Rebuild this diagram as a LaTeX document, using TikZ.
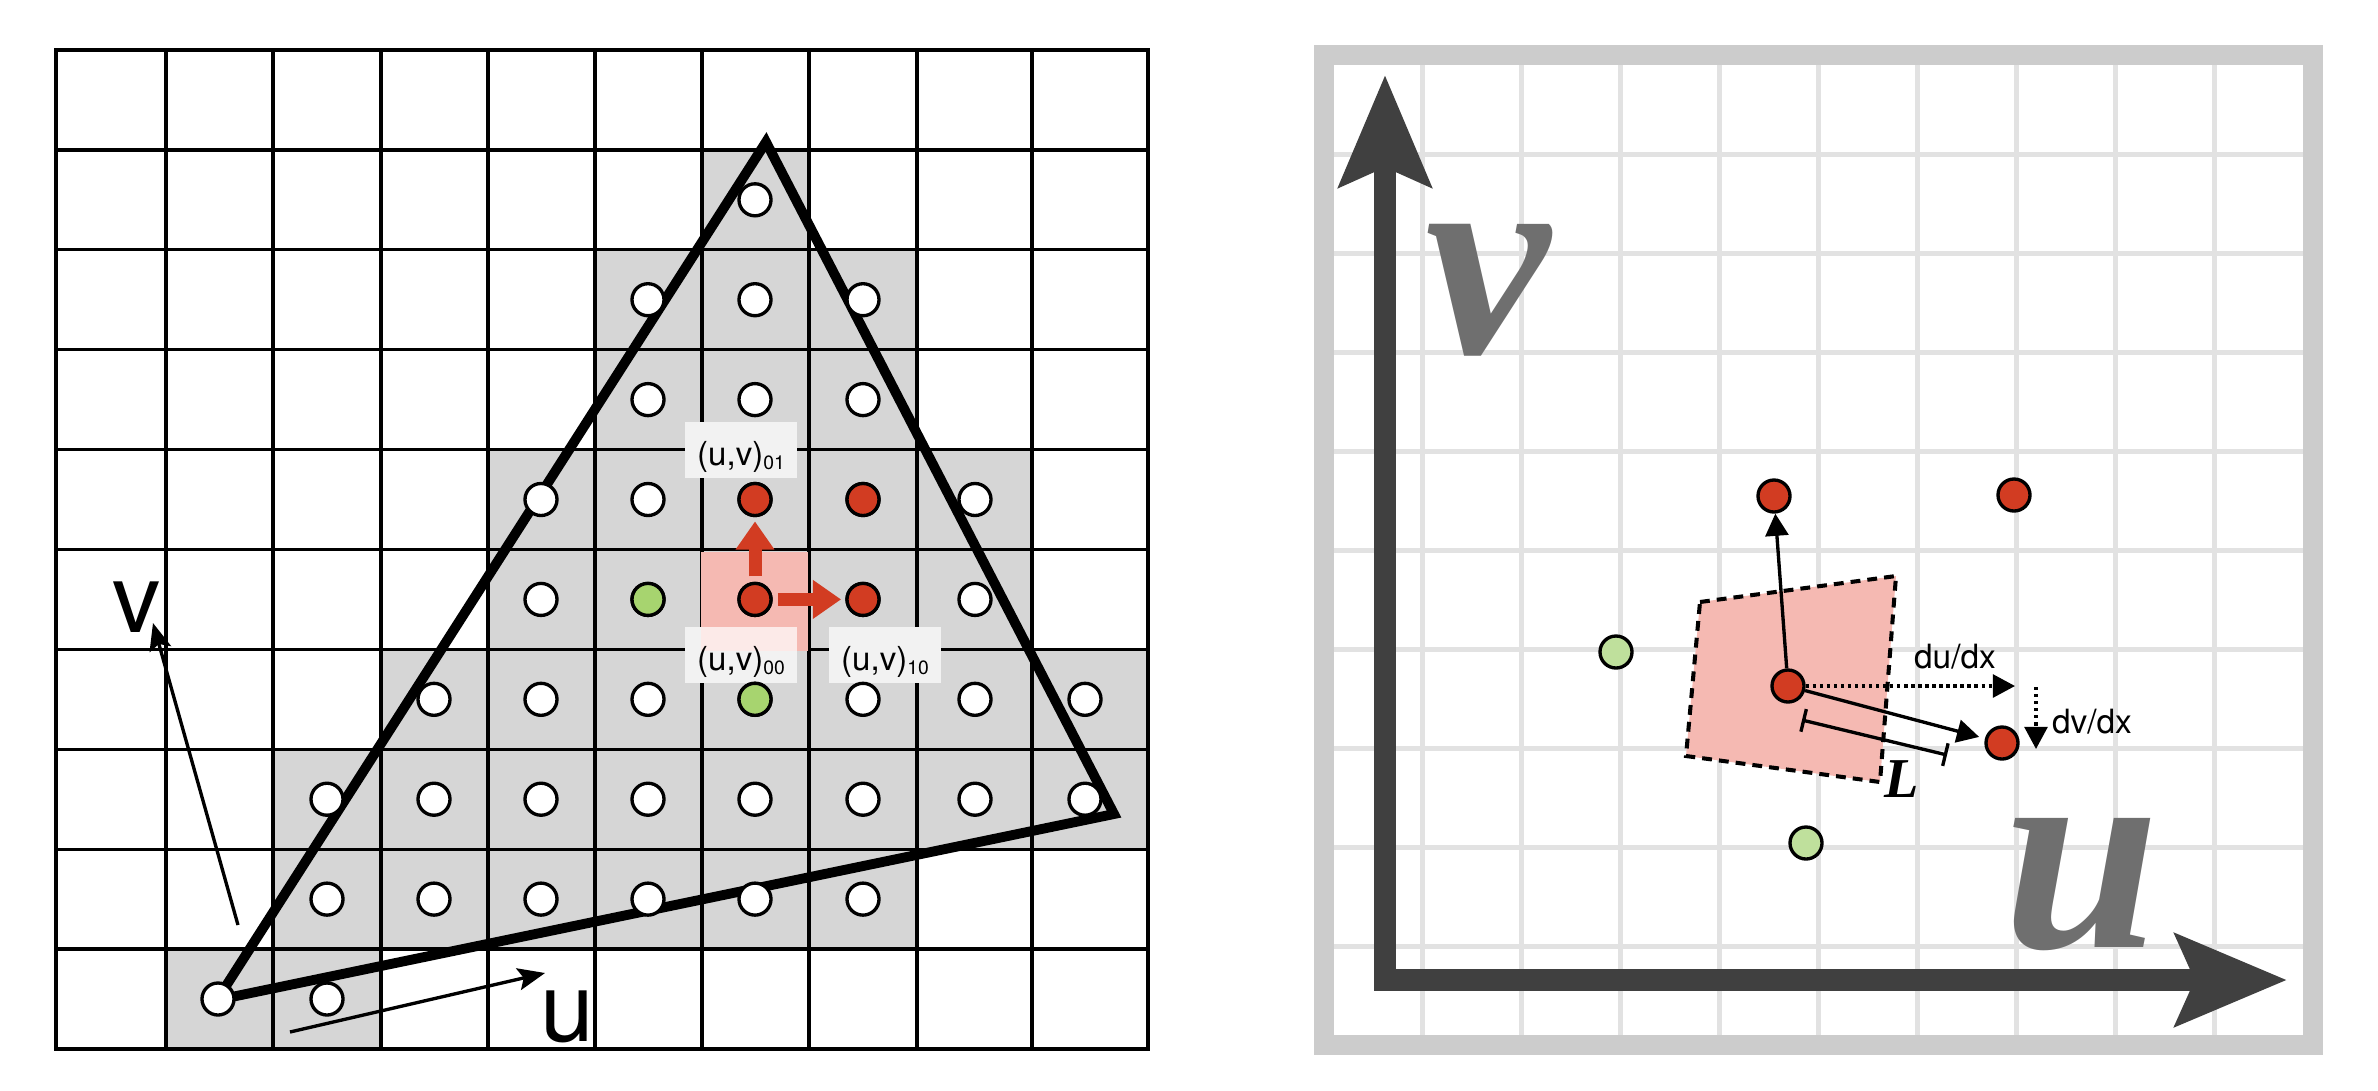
\documentclass[tikz,border=0pt]{standalone}
\usepackage{fontspec}
\setmainfont{TeX Gyre Heros}
\newfontfamily\timesfont{Liberation Serif}
\usetikzlibrary{arrows.meta}
\definecolor{cellgray}{HTML}{D6D6D6}
\definecolor{cellpink}{HTML}{F5B9B2}
\definecolor{ptred}{HTML}{D23C22}
\definecolor{ptgreen}{HTML}{A7D46F}
\definecolor{ptgreenlt}{HTML}{BFE09C}
\definecolor{axisgray}{HTML}{404040}
\definecolor{lettergray}{HTML}{6F6F6F}
\definecolor{framegray}{HTML}{CCCCCC}
\definecolor{finegray}{HTML}{E2E2E2}
\newcommand{\uvsub}[1]{\raisebox{-1pt}{\fontsize{5.5}{6}\selectfont #1}}
% rows of sample points: row/columns
\def\samplerows{0/{1,2},1/{2,...,7},2/{2,...,9},3/{3,...,9},4/{4,...,8},5/{4,...,8},6/{5,6,7},7/{5,6,7},8/{6}}
\def\colline{{56,166,273,381,488,595,702,809,917,1032,1148}}
\def\colmid{{111,218,327,434,541,648,755,863,975,1085}}
\begin{document}
\begin{tikzpicture}[x=0.01cm,y=-0.01cm,
  samp/.style={circle,draw,line width=.95pt,fill=white,inner sep=0pt,minimum size=.32cm},
  redpt/.style={samp,fill=ptred},
  greenpt/.style={samp,fill=ptgreen},
  greenlt/.style={samp,fill=ptgreenlt},
  cellline/.style={line width=.95pt,line cap=rect},
  underlay/.style={fill=cellgray,inner sep=0pt,minimum width=1.12cm,minimum height=.56cm},
  uvbox/.style={underlay,fill=white,fill opacity=.7,text opacity=1,font=\fontsize{9.4}{11}\selectfont,text height=11pt,text depth=2pt},
  redarrow/.style={ptred,line width=3.7pt,shorten <=1.5pt,shorten >=1.2pt,-{Triangle[length=8pt,width=10.5pt]}},
  thinarrow/.style={line width=.95pt,-{Stealth[length=7.7pt,width=6.3pt,inset=1.5pt]}},
  blackarrow/.style={line width=.95pt,-{Triangle[length=6.3pt,width=6.5pt]}},
  dotarrow/.style={blackarrow,dash pattern=on .95pt off 1.05pt},
  sanslabel/.style={inner sep=0pt,font=\fontsize{27.5}{30}\selectfont},
  smalllabel/.style={inner sep=0pt,font=\fontsize{9.5}{11}\selectfont},
  axisletter/.style={inner sep=0pt,text=lettergray,font=\timesfont\bfseries\itshape\fontsize{80}{80}\selectfont}]
\useasboundingbox (0,0) rectangle (2378,1090);
% left: texture grid with triangle
\foreach \j/\cols in \samplerows
  \foreach \i in \cols {
    \pgfmathsetmacro\xl{\colline[\i]}
    \pgfmathsetmacro\xr{\colline[\i+1]}
    \fill[cellgray] (\xl,{1049-99.9*\j}) rectangle (\xr,{949.1-99.9*\j});
  }
\foreach \x in {56,166,273,381,488,595,702,809,917,1032,1148}
  \draw[cellline] (\x,50) -- (\x,1049);
\foreach \j in {0,...,10}
  \draw[cellline] (56,{1049-99.9*\j}) -- (1148,{1049-99.9*\j});
\node[underlay] (u01) at (741,450) {};
\node[underlay] (u00) at (741,655) {};
\node[underlay] (u10) at (885,655) {};
\fill[cellpink] (700.5,551.5) rectangle (807.5,651);
\node[uvbox] (t01) at (u01) {(u,v)\uvsub{01}};
\node[uvbox] (t00) at (u00) {(u,v)\uvsub{00}};
\node[uvbox] (t10) at (u10) {(u,v)\uvsub{10}};
\draw[line width=2.8pt,line join=miter] (217,1000) -- (766,142) -- (1114,814) -- cycle;
\foreach \j/\cols in \samplerows
  \foreach \i in \cols {
    \pgfmathsetmacro\xm{\colmid[\i]}
    \node[samp] (s-\i-\j) at (\xm,{999-99.9*\j}) {};
  }
\node[redpt] (p01) at (s-6-5) {};
\node[redpt] (p11) at (s-7-5) {};
\node[redpt] (p00) at (s-6-4) {};
\node[redpt] (p10) at (s-7-4) {};
\node[greenpt] (g1) at (s-5-4) {};
\node[greenpt] (g2) at (s-6-3) {};
\draw[redarrow] (p00) -- (p01);
\draw[redarrow] (p00) -- (p10);
\coordinate (vtail) at (238,925);
\coordinate (vtip) at (153,623);
\coordinate (utail) at (290,1032);
\coordinate (utip) at (545,973);
\draw[thinarrow] (vtail) -- (vtip);
\draw[thinarrow] (utail) -- (utip);
\node[sanslabel] (vlab) at (137,607) {v};
\node[sanslabel] (ulab) at (567,1017) {u};
% right: uv space
\foreach \k in {1,...,9} {
  \draw[finegray,line width=1.42pt] ({1324+98.9*\k},55) -- ({1324+98.9*\k},1045);
  \draw[finegray,line width=1.42pt] (1324,{55+99*\k}) -- (2313,{55+99*\k});
}
\draw[framegray,line width=5.7pt] (1324,55) rectangle (2313,1045);
\draw[axisgray,line width=6pt,line join=miter,
  {Stealth[length=31.6pt,width=25.9pt,inset=5.4pt]}-{Stealth[length=31.6pt,width=25.9pt,inset=5.4pt]}]
  (1385,75) |- (2287,980);
\node[axisletter] (vaxis) at (1488,290) {v};
\node[axisletter] (uaxis) at (2082,885) {u};
\draw[fill=cellpink,line width=1.15pt,dash pattern=on 2.8pt off 2pt]
  (1700,602) -- (1896,576) -- (1880,782) -- (1686,756) -- cycle;
\node[greenlt] (h1) at (1616,652) {};
\node[greenlt] (h2) at (1806,843) {};
\node[redpt] (q00) at (1788,686) {};
\node[redpt] (q01) at (1774,496) {};
\node[redpt] (q11) at (2014,495) {};
\node[redpt] (q10) at (2002,743) {};
\draw[blackarrow] (q00) -- (q01);
\draw[blackarrow,shorten >=1.7pt] (q00) -- (q10);
\coordinate (dutip) at (2015,686);
\coordinate (dvtail) at (2036,687);
\coordinate (dvtip) at (2036,749);
\draw[dotarrow] (q00) -- (dutip);
\draw[dotarrow] (dvtail) -- (dvtip);
\node[smalllabel] (dulab) at (1955,657) {du/dx};
\node[smalllabel] (dvlab) at (2092,722) {dv/dx};
\coordinate (la) at (1802,720);
\coordinate (lb) at (1947,755);
\draw[line width=.95pt,{Bar[width=6.6pt]}-{Bar[width=6.6pt]}] (la) -- (lb);
\node[inner sep=0pt,font=\timesfont\bfseries\itshape\fontsize{16}{16}\selectfont] (llab) at (1902,779) {L};
\end{tikzpicture}
\end{document}
